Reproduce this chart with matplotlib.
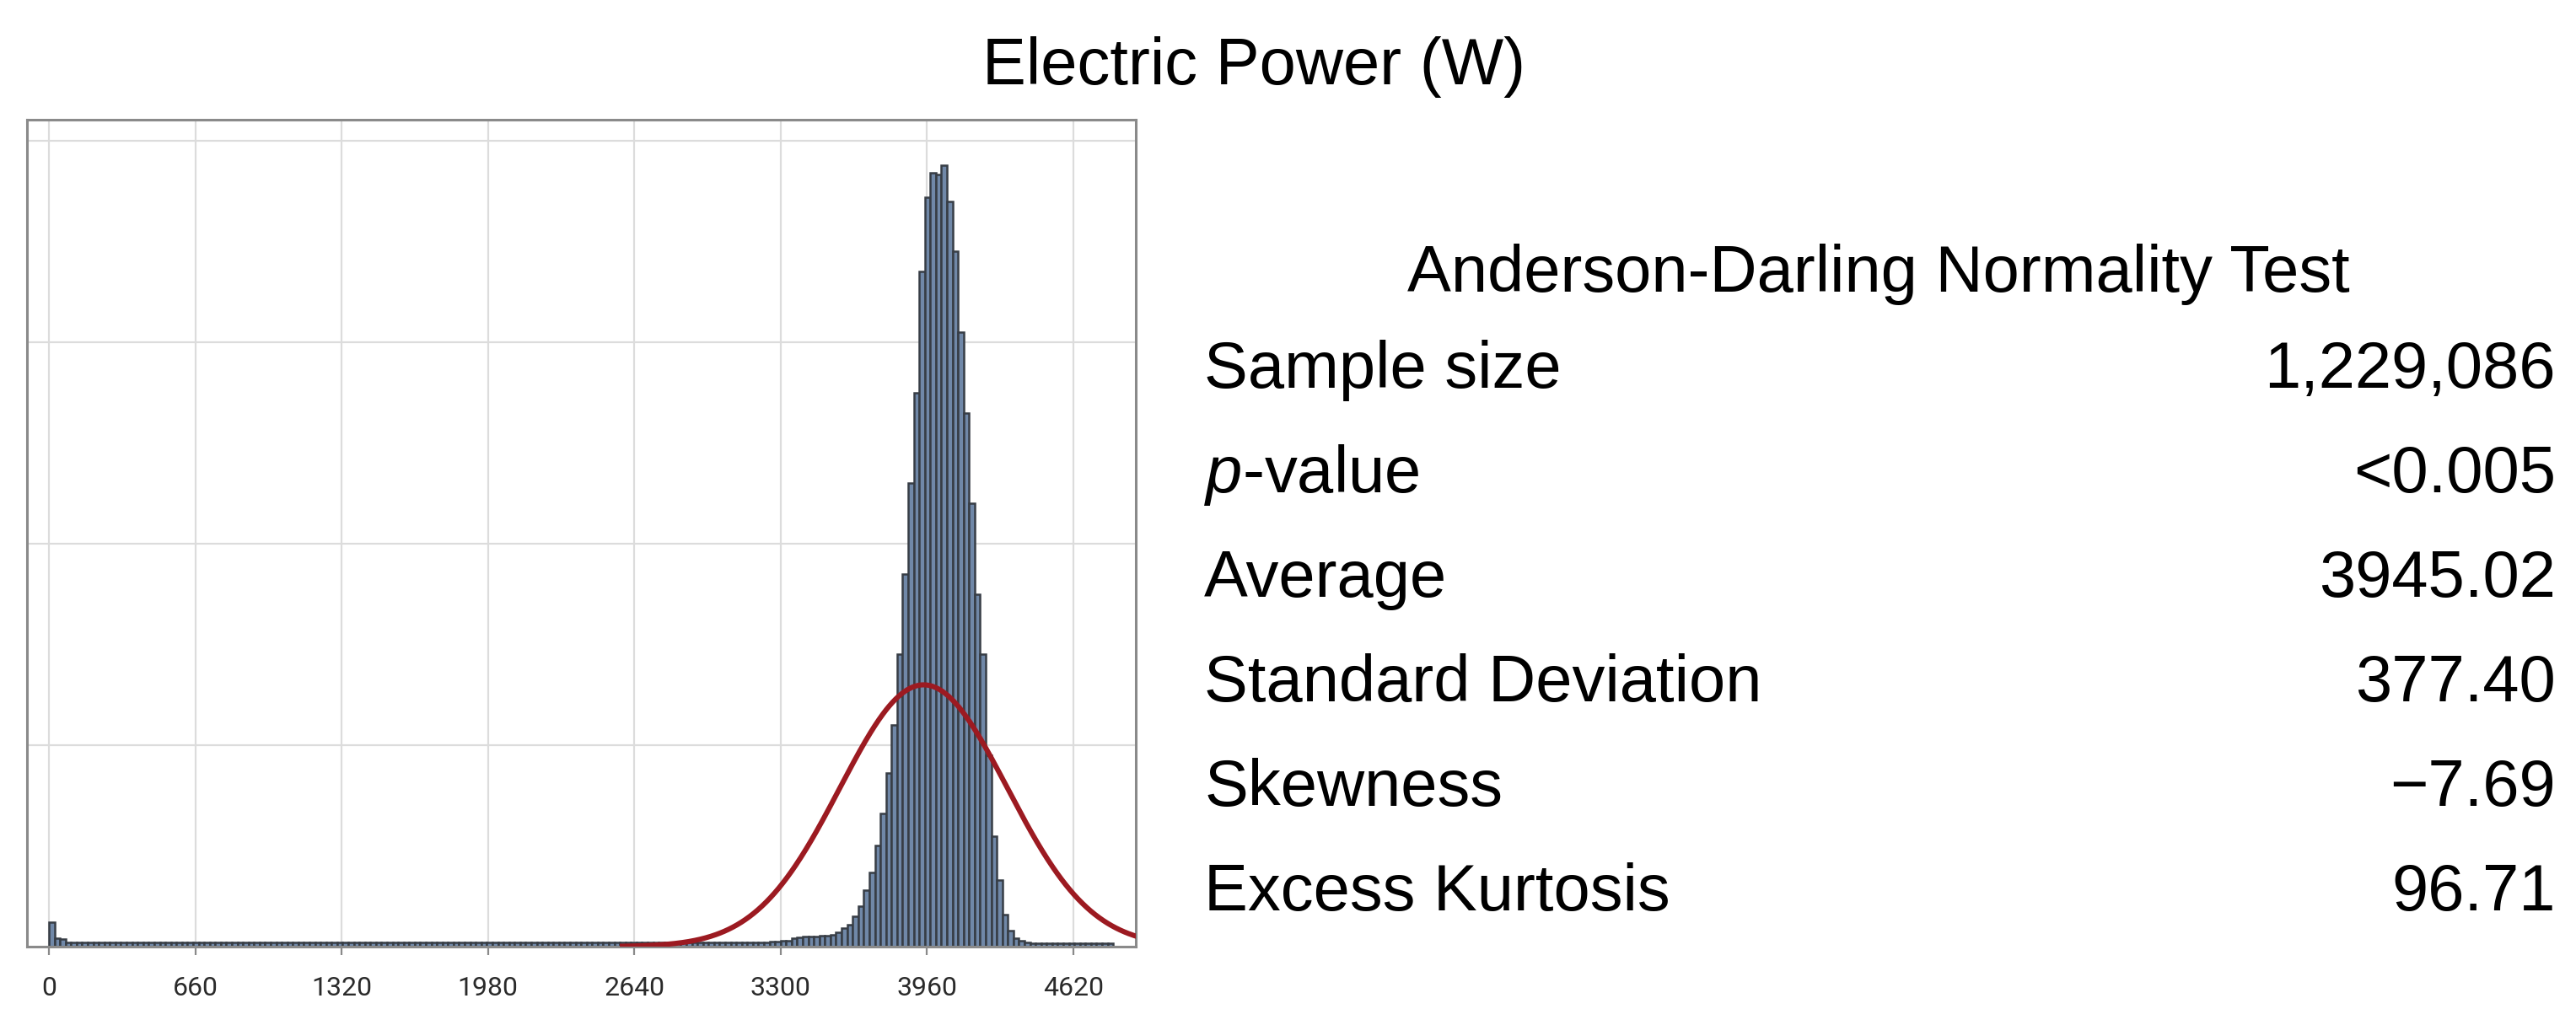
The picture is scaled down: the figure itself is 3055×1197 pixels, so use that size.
import numpy as np
import matplotlib.pyplot as plt

plt.rcParams["mathtext.fontset"] = "custom"
plt.rcParams["mathtext.rm"] = "Liberation Sans"
plt.rcParams["mathtext.it"] = "Liberation Sans:italic"

# histogram of electric power, 25 W bins starting at 0 W
bin_width = 25
low_counts = [3000, 1000, 900] + [500] * 125          # 0 .. 3200 W
main_counts = [500, 500, 625, 625, 750, 750, 1000, 1125, 1250, 1250,
               1250, 1375, 1375, 1500, 1750, 2250, 2750, 3750, 5000, 7000,
               9250, 12500, 16500, 21500, 27500, 36250, 46250, 57500, 68750, 83750,
               93000, 96000, 95750, 97000, 92500, 86250, 76250, 66250, 55000, 43750,
               36250, 23750, 13750, 8250, 4000, 2000, 1000, 750, 500]  # 3200 .. 4425 W
high_counts = [450] * 15                               # 4425 .. 4800 W
counts = low_counts + main_counts + high_counts

x_ticks = [0, 660, 1320, 1980, 2640, 3300, 3960, 4620]

stat_labels = ["Sample size", "$p$-value", "Average", "Standard Deviation",
               "Skewness", "Excess Kurtosis"]
stat_values = ["1,229,086", "<0.005", "3945.02", "377.40", "\u22127.69", "96.71"]
sample_size = 1229086
mean = 3945.02
sd = 377.40

W, H = 3055, 1197
fig = plt.figure(figsize=(W / 100, H / 100), dpi=100)
ax = fig.add_axes([32 / W, 1 - 1123 / H, (1347 - 32) / W, (1123 - 142) / H])

lefts = np.arange(len(counts)) * bin_width
ax.bar(lefts, counts, width=bin_width, align="edge", color="#7088a8",
       edgecolor="#373d45", linewidth=1.8, zorder=2)

xs = np.linspace(mean - 3.6 * sd, 4950, 500)
fit = sample_size * bin_width * np.exp(-0.5 * ((xs - mean) / sd) ** 2) / (sd * np.sqrt(2 * np.pi))
ax.plot(xs, fit, color="#9c1a21", lw=4.4, zorder=3)

ax.set_xlim(-99, 4902)
ax.set_ylim(0, 102600)
ax.set_xticks(x_ticks)
ax.set_xticklabels([str(t) for t in x_ticks], fontfamily="Roboto", fontsize=23, color="#2a2a2a")
ax.set_yticks([25000, 50000, 75000, 100000])
ax.tick_params(axis="y", length=0, labelleft=False)
ax.tick_params(axis="x", length=7, width=1.6, color="#8a8a8a", pad=18)
ax.grid(True, color="#dcdcdc", lw=1.6)
ax.set_axisbelow(True)
for sp in ax.spines.values():
    sp.set_color("#8a8a8a")
    sp.set_linewidth(2.2)

big = dict(fontsize=56, family="Liberation Sans", color="black")
fig.text(1487 / W, 1 - 100 / H, "Electric Power (W)", ha="center", va="baseline", **big)
fig.text(2228 / W, 1 - 346 / H, "Anderson-Darling Normality Test", ha="center", va="baseline", **big)
for i, (lab, val) in enumerate(zip(stat_labels, stat_values)):
    yb = 1 - (460 + 124 * i) / H
    fig.text(1428 / W, yb, lab, ha="left", va="baseline", **big)
    fig.text(3031 / W, yb, val, ha="right", va="baseline", **big)

fig.savefig("out.png", dpi=100, facecolor="white")
